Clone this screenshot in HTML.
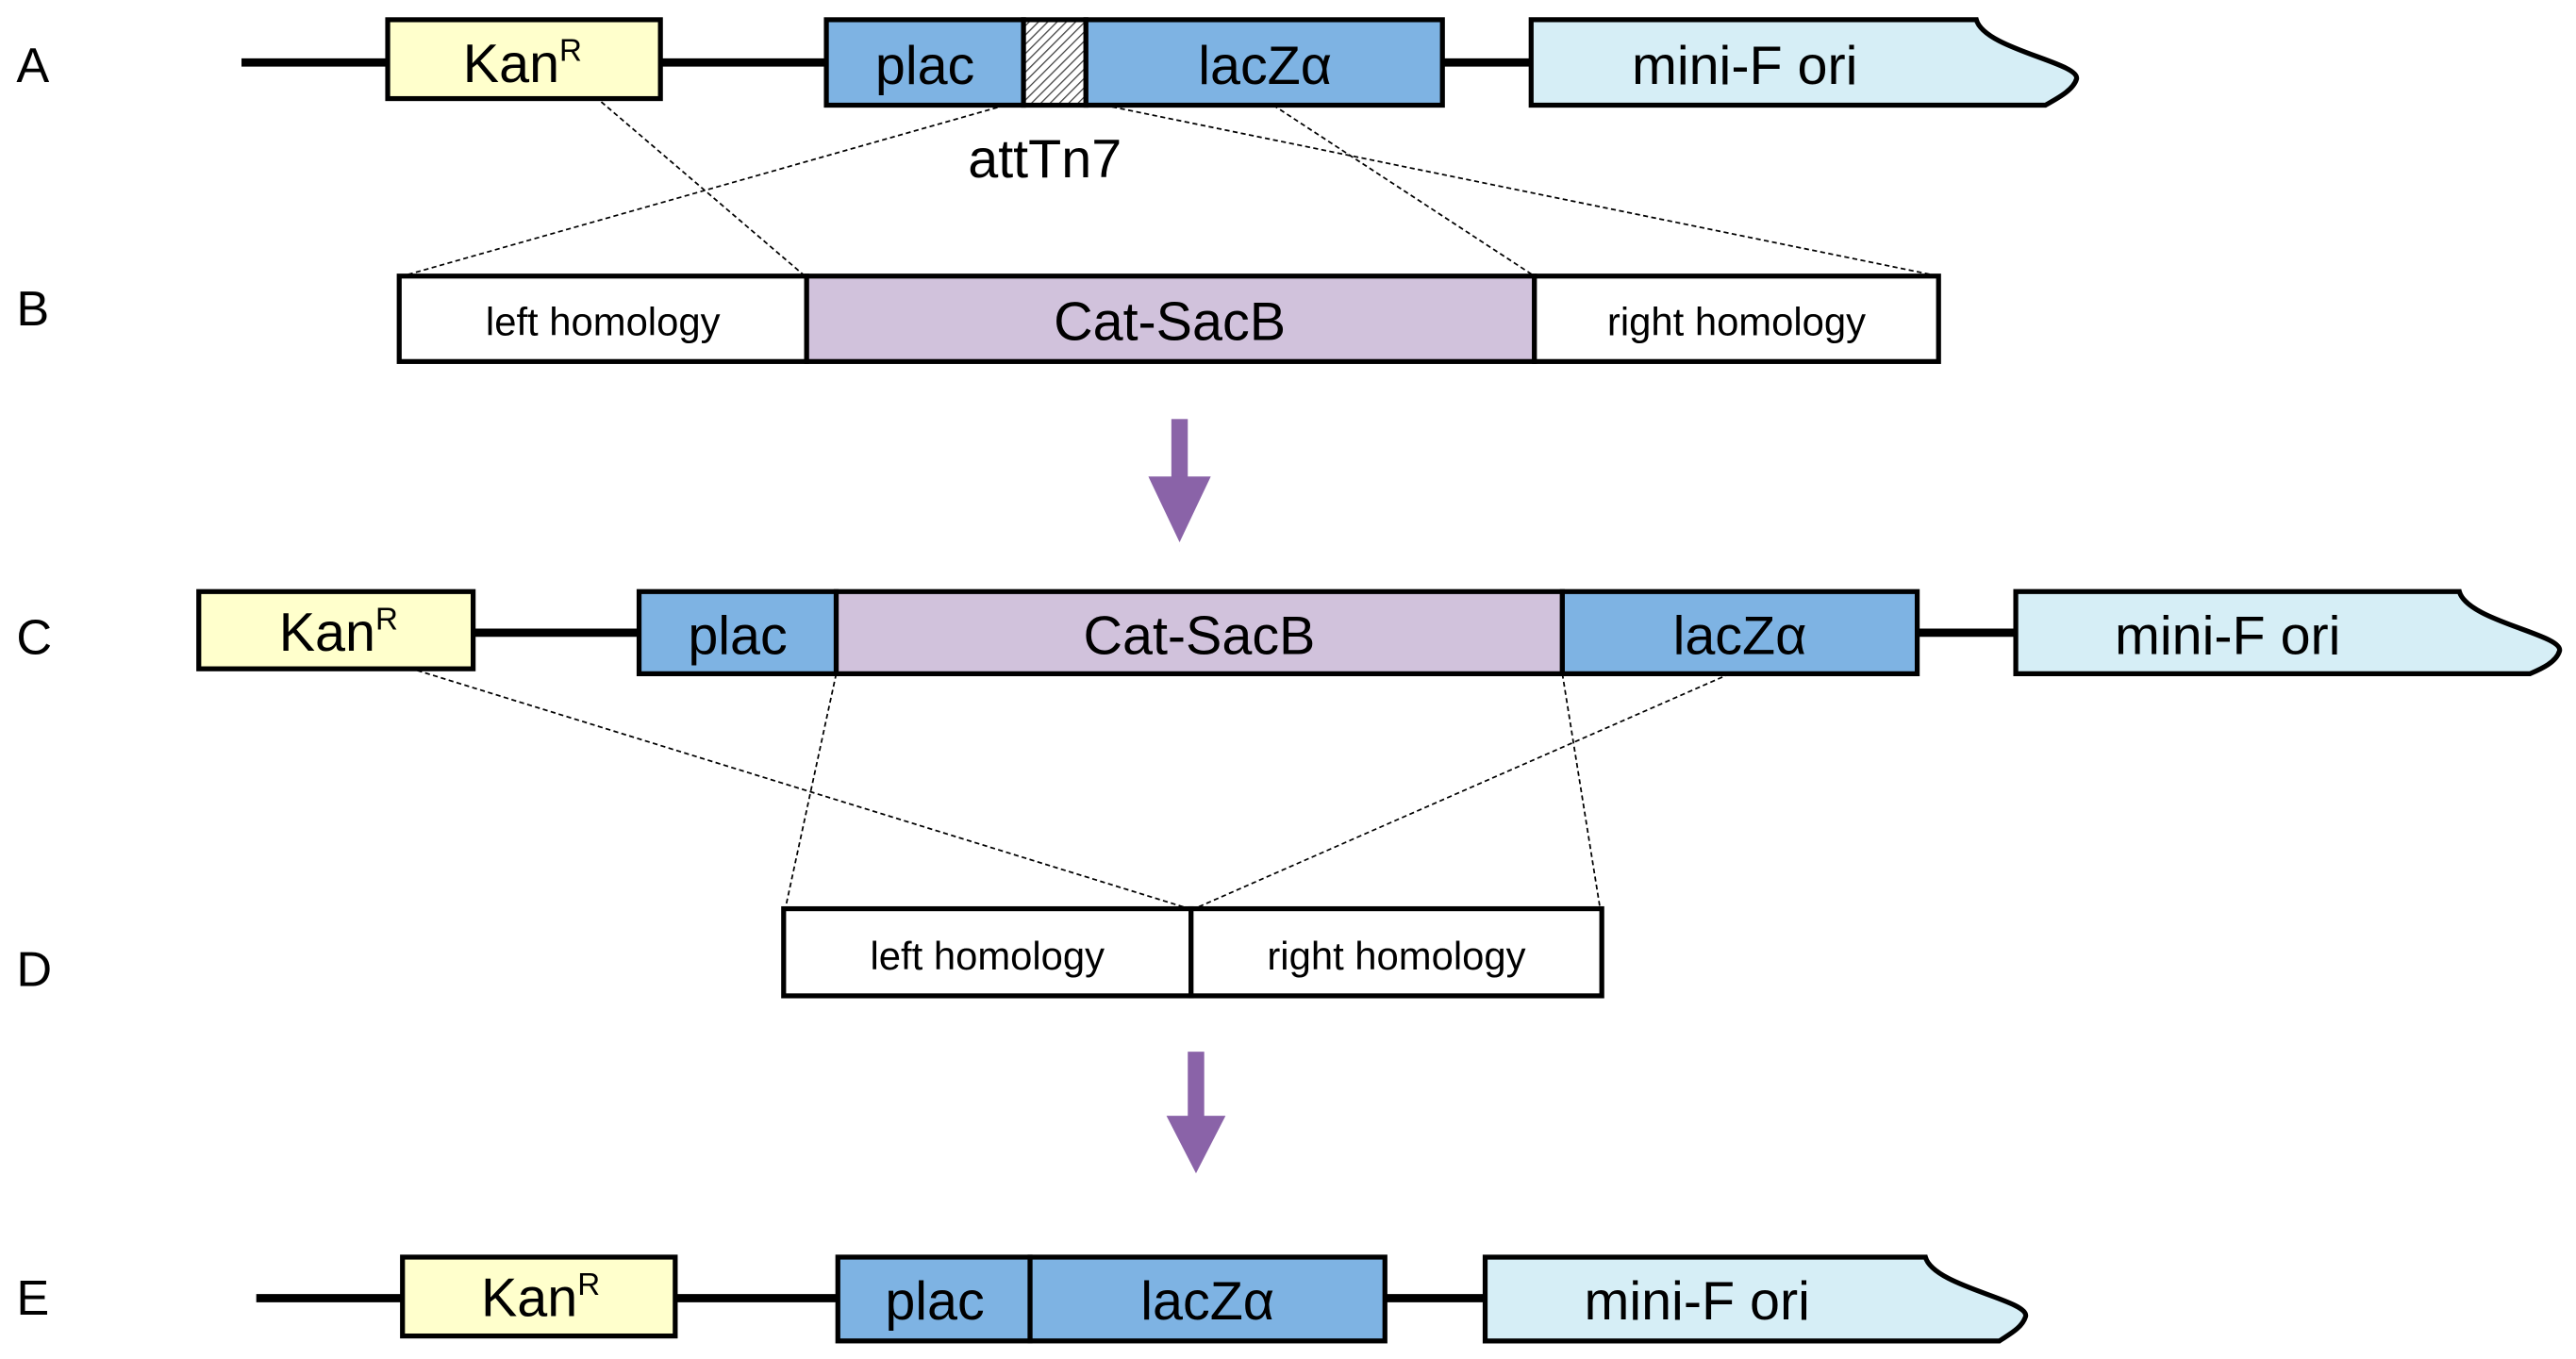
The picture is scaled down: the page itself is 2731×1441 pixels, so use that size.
<!DOCTYPE html>
<html><head><style>html,body{margin:0;padding:0;background:#fff}svg{display:block}</style></head>
<body>
<svg width="2731" height="1441" viewBox="0 0 1568 827" preserveAspectRatio="none" xmlns="http://www.w3.org/2000/svg" font-family="Liberation Sans, sans-serif">
<defs>
<pattern id="h" width="4" height="4" patternUnits="userSpaceOnUse" patternTransform="rotate(45)">
<rect width="4" height="4" fill="#fff"/><line x1="0" y1="0" x2="0" y2="4" stroke="#444" stroke-width="1.5"/></pattern>
</defs>
<g font-size="30" fill="#000">
<text x="10" y="50">A</text><text x="10" y="198">B</text><text x="10" y="398">C</text><text x="10" y="600">D</text><text x="10" y="800">E</text>
</g>
<g stroke="#000" stroke-width="5">
<line x1="147" y1="38" x2="236" y2="38"/><line x1="402" y1="38" x2="503" y2="38"/><line x1="878" y1="38" x2="932" y2="38"/>
<line x1="288" y1="385" x2="389" y2="385"/><line x1="1167" y1="385" x2="1227" y2="385"/>
<line x1="156" y1="790" x2="245" y2="790"/><line x1="411" y1="790" x2="510" y2="790"/><line x1="843" y1="790" x2="904" y2="790"/>
</g>
<g stroke="#000" stroke-width="1" stroke-dasharray="3,2" fill="none">
<line x1="366" y1="62" x2="490" y2="168"/><line x1="612" y1="64" x2="245" y2="168"/>
<line x1="672" y1="64" x2="1180" y2="168"/><line x1="775" y1="64" x2="934" y2="168"/>
<line x1="254" y1="408" x2="724" y2="553"/><line x1="509" y1="410" x2="478" y2="553"/>
<line x1="951" y1="410" x2="974" y2="553"/><line x1="1053" y1="410" x2="727" y2="553"/>
</g>
<g stroke="#000" stroke-width="3">
<rect x="236" y="12" width="166" height="48" fill="#ffffcc"/>
<rect x="503" y="12" width="120" height="52" fill="#7eb3e3"/>
<rect x="623" y="12" width="38" height="52" fill="url(#h)"/>
<rect x="661" y="12" width="217" height="52" fill="#7eb3e3"/>
<path d="M932,12 H1203 C1208,30 1266,38 1264,48 C1262,55 1252,60 1245,64 H932 Z" fill="#d6eef6"/>
<rect x="243" y="168" width="248" height="52" fill="#fff"/>
<rect x="491" y="168" width="443" height="52" fill="#d1c2dc"/>
<rect x="934" y="168" width="246" height="52" fill="#fff"/>
<rect x="121" y="360" width="167" height="47" fill="#ffffcc"/>
<rect x="389" y="360" width="120" height="50" fill="#7eb3e3"/>
<rect x="509" y="360" width="442" height="50" fill="#d1c2dc"/>
<rect x="951" y="360" width="216" height="50" fill="#7eb3e3"/>
<path d="M1227,360 H1497 C1502,378 1560,386 1558,396 C1556,403 1547,407 1540,410 H1227 Z" fill="#d6eef6"/>
<rect x="477" y="553" width="248" height="53" fill="#fff"/>
<rect x="725" y="553" width="250" height="53" fill="#fff"/>
<rect x="245" y="765" width="166" height="48" fill="#ffffcc"/>
<rect x="510" y="765" width="117" height="51" fill="#7eb3e3"/>
<rect x="627" y="765" width="216" height="51" fill="#7eb3e3"/>
<path d="M904,765 H1172 C1177,783 1235,791 1233,801 C1231,808 1223,812 1217,816 H904 Z" fill="#d6eef6"/>
</g>
<g fill="#8a63a8">
<rect x="713" y="255" width="10" height="36"/><polygon points="699,290 737,290 718,330"/>
<rect x="723" y="640" width="10" height="40"/><polygon points="710,679 746,679 728,714"/>
</g>
<g font-size="33" text-anchor="middle" fill="#000">
<text x="318" y="50">Kan<tspan font-size="19" dy="-13">R</tspan></text>
<text x="563" y="51">plac</text>
<text x="770" y="51">lacZα</text>
<text x="1062" y="51">mini-F ori</text>
<text x="636" y="108">attTn7</text>
<text x="712" y="207">Cat-SacB</text>
<text x="206" y="396">Kan<tspan font-size="19" dy="-13">R</tspan></text>
<text x="449" y="398">plac</text>
<text x="730" y="398">Cat-SacB</text>
<text x="1059" y="398">lacZα</text>
<text x="1356" y="398">mini-F ori</text>
<text x="329" y="801">Kan<tspan font-size="19" dy="-13">R</tspan></text>
<text x="569" y="803">plac</text>
<text x="735" y="803">lacZα</text>
<text x="1033" y="803">mini-F ori</text>
</g>
<g font-size="24" text-anchor="middle" fill="#000">
<text x="367" y="204">left homology</text>
<text x="1057" y="204">right homology</text>
<text x="601" y="590">left homology</text>
<text x="850" y="590">right homology</text>
</g>
</svg>
</body></html>
